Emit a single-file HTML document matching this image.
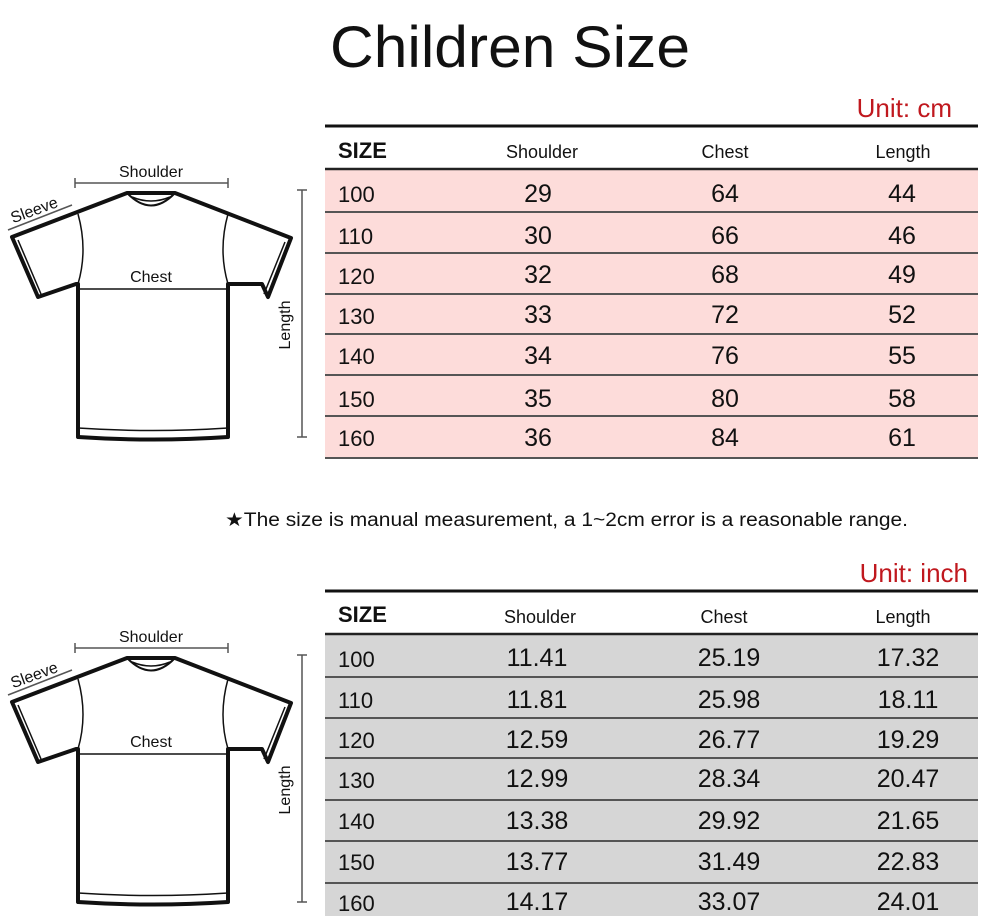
<!DOCTYPE html>
<html><head><meta charset="utf-8"><style>
html,body{margin:0;padding:0;background:#fff;}
svg{display:block;}
text{font-family:"Liberation Sans",sans-serif;fill:#111;}
</style></head><body>
<svg width="1000" height="916" viewBox="0 0 1000 916" xmlns="http://www.w3.org/2000/svg">
<defs>
<g id="shirt">
  <path d="M127,193 L12,237 L38,297 L76,284 L78,284 L78,437 Q153,442 228,437 L228,284 L262,284 L268,297 L291,238 L175,193 Z" fill="#fff" stroke="#111" stroke-width="4" stroke-linejoin="round"/>
  <path d="M18,240 L41,294" stroke="#111" stroke-width="1.5" fill="none"/>
  <path d="M285,242 L264,294" stroke="#111" stroke-width="1.5" fill="none"/>
  <path d="M78,428 Q153,433 228,428" stroke="#111" stroke-width="1.5" fill="none"/>
  <path d="M127,193 Q151,218 175,193" stroke="#111" stroke-width="2" fill="none"/>
  <path d="M132,197 Q151,205 170,197" stroke="#111" stroke-width="1.5" fill="none"/>
  <path d="M78,214 Q88,250 78,284" stroke="#111" stroke-width="1.5" fill="none"/>
  <path d="M228,214 Q218,250 228,284" stroke="#111" stroke-width="1.5" fill="none"/>
  <line x1="78" y1="289" x2="228" y2="289" stroke="#111" stroke-width="1.5"/>
  <line x1="75" y1="183" x2="228" y2="183" stroke="#555" stroke-width="1.5"/>
  <line x1="75" y1="178" x2="75" y2="188" stroke="#555" stroke-width="1.5"/>
  <line x1="228" y1="178" x2="228" y2="188" stroke="#555" stroke-width="1.5"/>
  <line x1="8" y1="230" x2="72" y2="205" stroke="#555" stroke-width="1.5"/>
  <line x1="302" y1="190" x2="302" y2="437" stroke="#555" stroke-width="1.5"/>
  <line x1="297" y1="190" x2="307" y2="190" stroke="#555" stroke-width="1.5"/>
  <line x1="297" y1="437" x2="307" y2="437" stroke="#555" stroke-width="1.5"/>
  <text x="151" y="177" font-size="16" text-anchor="middle">Shoulder</text>
  <text x="151" y="282" font-size="16" text-anchor="middle">Chest</text>
  <text x="36" y="215" font-size="16" text-anchor="middle" transform="rotate(-20 36 215)">Sleeve</text>
  <text x="290" y="325" font-size="16" text-anchor="middle" transform="rotate(-90 290 325)">Length</text>
</g>
</defs>

<text x="510" y="67" font-size="58" text-anchor="middle" textLength="360" lengthAdjust="spacingAndGlyphs">Children Size</text>

<use href="#shirt"/>
<use href="#shirt" y="465"/>

<!-- top table -->
<text x="952" y="117" font-size="26" text-anchor="end" style="fill:#c0181e">Unit: cm</text>
<rect x="325" y="168" width="653" height="290" fill="#fddcda"/>
<line x1="325" y1="126" x2="978" y2="126" stroke="#111" stroke-width="3"/>
<line x1="325" y1="169" x2="978" y2="169" stroke="#222" stroke-width="2.5"/>
<g stroke="#555" stroke-width="2">
<line x1="325" y1="212" x2="978" y2="212"/><line x1="325" y1="253" x2="978" y2="253"/>
<line x1="325" y1="294" x2="978" y2="294"/><line x1="325" y1="334" x2="978" y2="334"/>
<line x1="325" y1="375" x2="978" y2="375"/><line x1="325" y1="416" x2="978" y2="416"/>
<line x1="325" y1="458" x2="978" y2="458"/>
</g>
<text x="338" y="158" font-size="22" font-weight="bold">SIZE</text>
<text x="542" y="158" font-size="18" text-anchor="middle">Shoulder</text>
<text x="725" y="158" font-size="18" text-anchor="middle">Chest</text>
<text x="903" y="158" font-size="18" text-anchor="middle">Length</text>
<g font-size="22"><text x="338" y="202">100</text><text x="338" y="244">110</text><text x="338" y="284">120</text><text x="338" y="324">130</text><text x="338" y="364">140</text><text x="338" y="407">150</text><text x="338" y="446">160</text></g>
<g font-size="25" text-anchor="middle">
<text x="538" y="202">29</text><text x="725" y="202">64</text><text x="902" y="202">44</text>
<text x="538" y="244">30</text><text x="725" y="244">66</text><text x="902" y="244">46</text>
<text x="538" y="283">32</text><text x="725" y="283">68</text><text x="902" y="283">49</text>
<text x="538" y="323">33</text><text x="725" y="323">72</text><text x="902" y="323">52</text>
<text x="538" y="364">34</text><text x="725" y="364">76</text><text x="902" y="364">55</text>
<text x="538" y="407">35</text><text x="725" y="407">80</text><text x="902" y="407">58</text>
<text x="538" y="446">36</text><text x="725" y="446">84</text><text x="902" y="446">61</text>
</g>

<text x="225" y="526" font-size="19" textLength="683" lengthAdjust="spacingAndGlyphs">★The size is manual measurement, a 1~2cm error is a reasonable range.</text>

<!-- bottom table -->
<text x="968" y="582" font-size="26" text-anchor="end" style="fill:#c0181e">Unit: inch</text>
<rect x="325" y="634" width="653" height="282" fill="#d6d6d6"/>
<line x1="325" y1="591" x2="978" y2="591" stroke="#111" stroke-width="3"/>
<line x1="325" y1="634" x2="978" y2="634" stroke="#222" stroke-width="2.5"/>
<g stroke="#555" stroke-width="2">
<line x1="325" y1="677" x2="978" y2="677"/><line x1="325" y1="718" x2="978" y2="718"/>
<line x1="325" y1="758" x2="978" y2="758"/><line x1="325" y1="800" x2="978" y2="800"/>
<line x1="325" y1="841" x2="978" y2="841"/><line x1="325" y1="883" x2="978" y2="883"/>
</g>
<text x="338" y="622" font-size="22" font-weight="bold">SIZE</text>
<text x="540" y="623" font-size="18" text-anchor="middle">Shoulder</text>
<text x="724" y="623" font-size="18" text-anchor="middle">Chest</text>
<text x="903" y="623" font-size="18" text-anchor="middle">Length</text>
<g font-size="22"><text x="338" y="667">100</text><text x="338" y="708">110</text><text x="338" y="748">120</text><text x="338" y="788">130</text><text x="338" y="829">140</text><text x="338" y="870">150</text><text x="338" y="911">160</text></g>
<g font-size="25" text-anchor="middle">
<text x="537" y="666">11.41</text><text x="729" y="666">25.19</text><text x="908" y="666">17.32</text>
<text x="537" y="708">11.81</text><text x="729" y="708">25.98</text><text x="908" y="708">18.11</text>
<text x="537" y="748">12.59</text><text x="729" y="748">26.77</text><text x="908" y="748">19.29</text>
<text x="537" y="787">12.99</text><text x="729" y="787">28.34</text><text x="908" y="787">20.47</text>
<text x="537" y="829">13.38</text><text x="729" y="829">29.92</text><text x="908" y="829">21.65</text>
<text x="537" y="870">13.77</text><text x="729" y="870">31.49</text><text x="908" y="870">22.83</text>
<text x="537" y="910">14.17</text><text x="729" y="910">33.07</text><text x="908" y="910">24.01</text>
</g>
</svg>
</body></html>
